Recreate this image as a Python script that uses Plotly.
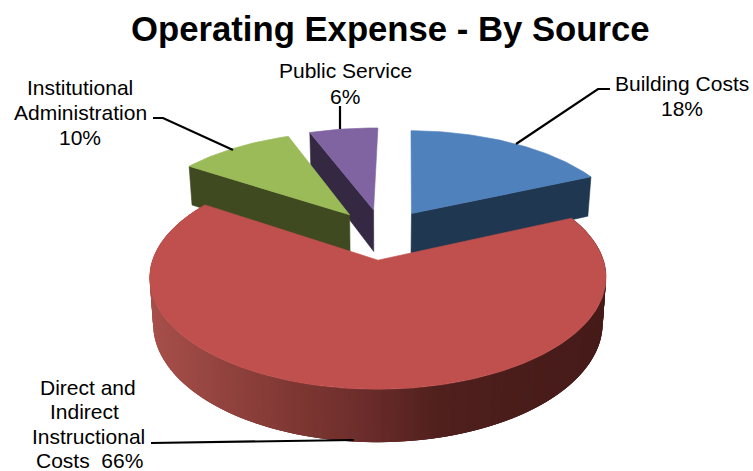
import math
import plotly.graph_objects as go

# Operating expense shares, clockwise from twelve o'clock
categories = ["Building Costs", "Direct and Indirect Instructional Costs",
              "Institutional Administration", "Public Service"]
shares = [18, 66, 10, 6]
top_colors = ["#4f81bd", "#c0504d", "#9bbb59", "#8064a2"]
wall_colors = ["#1f3750", "#7a3230", "#3f4a20", "#352842"]

# Three-dimensional view of the pie
CX, CY = 382.5, 234    # page position of the pie centre
RX, RY = 217, 101      # plane scale across and into the page
PERSP = 0.15           # foreshortening with distance
EXPLODE = 0.25         # how far each slice is pulled out
DEPTH = 43             # thickness of the pie
START = 1.0            # rotation of the first slice, degrees


def project(u, v, z=0.0):
    w = 1 + PERSP * v
    taper = 1 - 0.015 * z
    return CX + taper * RX * u / w, CY - RY * v / w + z * DEPTH / w


def slice_bounds():
    total = sum(shares)
    out, a = [], START
    for s in shares:
        b = a + 360 * s / total
        out.append((a, b))
        a = b
    return out


def rim(a, b, off, z=0.0, step=1.0):
    n = max(2, int((b - a) / step))
    pts = []
    for i in range(n + 1):
        t = math.radians(a + (b - a) * i / n)
        pts.append(project(off[0] + math.sin(t), off[1] + math.cos(t), z))
    return pts


def polygon(fig, pts, color, outline=0.6):
    fig.add_trace(go.Scatter(
        x=[p[0] for p in pts] + [pts[0][0]],
        y=[p[1] for p in pts] + [pts[0][1]],
        mode="lines", fill="toself", fillcolor=color,
        line=dict(color=color, width=outline), hoverinfo="skip", showlegend=False))


def lerp_color(x):
    # Shading of the curved wall, light on the left, dark on the right
    stops = [(150, (168, 80, 75)), (300, (128, 56, 52)), (375, (108, 45, 43)),
             (450, (80, 32, 29)), (520, (74, 29, 27)), (610, (70, 27, 25))]
    for (x0, c0), (x1, c1) in zip(stops, stops[1:]):
        if x <= x1:
            f = max(0.0, (x - x0) / (x1 - x0))
            return "rgb(%d,%d,%d)" % tuple(round(p + (q - p) * f) for p, q in zip(c0, c1))
    return "rgb(%d,%d,%d)" % stops[-1][1]


fig = go.Figure()
bounds = slice_bounds()
offsets = []
for a, b in bounds:
    mid = math.radians((a + b) / 2)
    offsets.append((EXPLODE * math.sin(mid), EXPLODE * math.cos(mid)))

# Far slices first, the large near slice last
for i in [3, 2, 0, 1]:
    a, b = bounds[i]
    off = offsets[i]
    apex_top = project(off[0], off[1], 0)
    apex_low = project(off[0], off[1], 1)
    if i == 0:
        edge = math.radians(b)
        p = (off[0] + math.sin(edge), off[1] + math.cos(edge))
        polygon(fig, [apex_top, project(*p, 0), project(*p, 1), apex_low], wall_colors[i])
    elif i in (2, 3):
        edge = math.radians(a)
        p = (off[0] + math.sin(edge), off[1] + math.cos(edge))
        polygon(fig, [apex_top, project(*p, 0), project(*p, 1), apex_low], wall_colors[i])
    else:
        # Curved wall as overlapping strips, painted left to right so no seams show
        step = 1.0
        n = int((b - a) / step)
        for k in range(n - 1, -1, -1):
            t0 = a + (b - a) * k / n
            t1 = a + (b - a) * min(k + 3, n) / n
            tp = rim(t0, t1, off, 0)
            lw = rim(t0, t1, off, 1)
            pts = tp + lw[::-1]
            polygon(fig, pts, lerp_color(pts[0][0]), outline=0)
    polygon(fig, [apex_top] + rim(a, b, off, 0), top_colors[i])

# Leader lines
leaders = [
    ([610, 598, 516], [89, 89, 144]),
    ([340, 340], [106, 129]),
    ([153, 163, 233], [118, 118, 150]),
    ([151, 354], [443, 440]),
]
for xs, ys in leaders:
    fig.add_trace(go.Scatter(x=xs, y=ys, mode="lines", line=dict(color="black", width=2.2),
                             hoverinfo="skip", showlegend=False))

# Category labels, one line at a time for even leading
label_font = dict(family="Liberation Sans, Arial, sans-serif", size=21, color="black")
label_lines = [
    (682, 83, "Building Costs"), (682, 108, f"{shares[0]}%"),
    (345, 70, "Public Service"), (345, 96, f"{shares[3]}%"),
    (80, 87, "Institutional"), (80, 112, "Administration"), (80, 137, f"{shares[2]}%"),
    (88, 387, "Direct and"), (84, 411, "Indirect"), (88, 436, "Instructional"),
    (89, 460, f"Costs  {shares[1]}%"),
]
annotations = [dict(x=x, y=y, text=t, xref="x", yref="y", showarrow=False,
                    xanchor="center", yanchor="middle", font=label_font)
               for x, y, t in label_lines]
annotations.append(dict(x=390, y=29, text="<b>Operating Expense - By Source</b>", xref="x", yref="y",
                        showarrow=False, xanchor="center", yanchor="middle",
                        font=dict(family="Liberation Sans, Arial, sans-serif", size=34.7, color="black")))

fig.update_layout(
    width=753, height=471, margin=dict(l=0, r=0, t=0, b=0),
    paper_bgcolor="white", plot_bgcolor="white",
    xaxis=dict(range=[0, 753], visible=False, fixedrange=True),
    yaxis=dict(range=[471, 0], visible=False, fixedrange=True),
    annotations=annotations, showlegend=False,
)
fig.write_html("out.html")
